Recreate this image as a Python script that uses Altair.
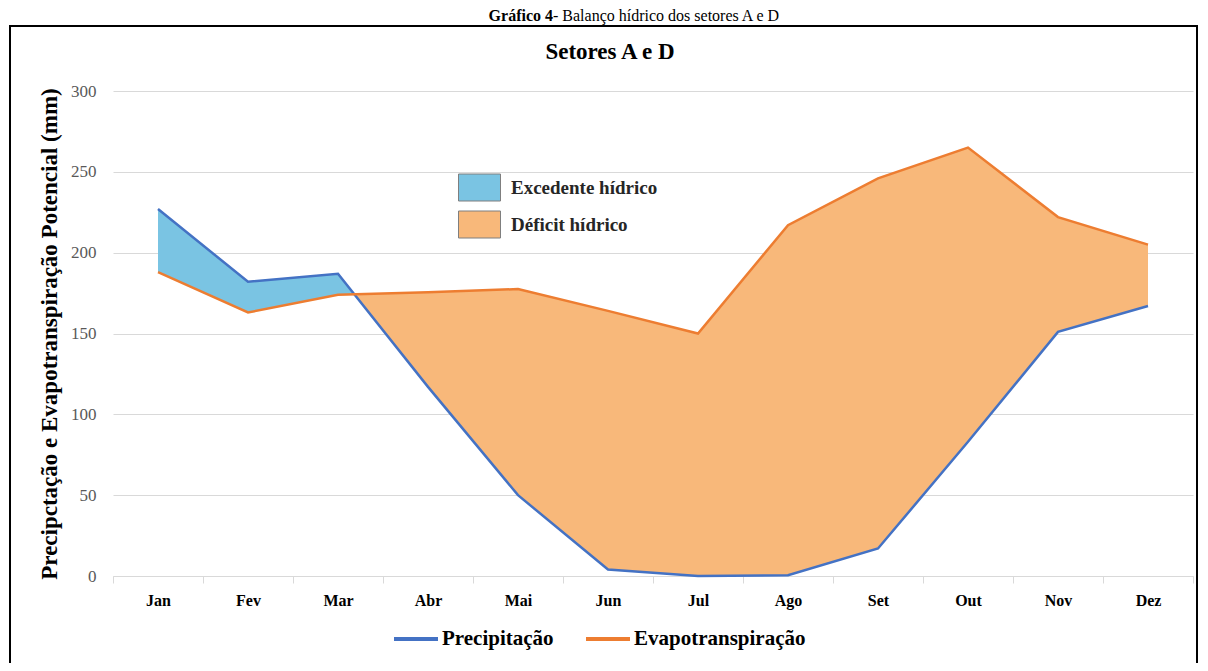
import altair as alt
import pandas as pd

# ---------------- data ----------------
months = ["Jan", "Fev", "Mar", "Abr", "Mai", "Jun", "Jul", "Ago", "Set", "Out", "Nov", "Dez"]
precipitacao = [227, 182, 187, 117, 50, 4, 0, 0.5, 17, 83, 151, 167]
evapotranspiracao = [188, 163, 174, 175.5, 177.5, 164, 150, 217, 246, 265, 222, 205]
y_ticks = [0, 50, 100, 150, 200, 250, 300]
series_names = ["Precipitação", "Evapotranspiração"]
balance_names = ["Excedente hídrico", "Déficit hídrico"]
caption_bold = ["Gráfico 4"]
caption_rest = ["- Balanço hídrico dos setores A e D"]
chart_title = ["Setores A e D"]
y_title = "Precipctação e Evapotranspiração Potencial (mm)"

# ---------------- styles ----------------
LINE_BLUE = "#4472C4"
LINE_ORANGE = "#ED7D31"
FILL_BLUE = "#7AC4E3"
FILL_ORANGE = "#F8B87A"
GRID = "#d9d9d9"
SERIF = "Liberation Serif"

W, H = 1080, 485

# line table
line_rows = []
for i in range(len(months)):
    line_rows.append({"x": i, "valor": precipitacao[i], "serie": series_names[0], "ordem": 1})
    line_rows.append({"x": i, "valor": evapotranspiracao[i], "serie": series_names[1], "ordem": 0})
lines_df = pd.DataFrame(line_rows)

# area table: add the crossing points of the two series so the fills split cleanly
pts = []
n = len(months)
for i in range(n):
    pts.append((i, precipitacao[i], evapotranspiracao[i]))
    if i < n - 1:
        d0 = precipitacao[i] - evapotranspiracao[i]
        d1 = precipitacao[i + 1] - evapotranspiracao[i + 1]
        if d0 * d1 < 0:
            t = d0 / (d0 - d1)
            p = precipitacao[i] + t * (precipitacao[i + 1] - precipitacao[i])
            e = evapotranspiracao[i] + t * (evapotranspiracao[i + 1] - evapotranspiracao[i])
            pts.append((i + t, p, e))
area_rows = []
for x, p, e in pts:
    area_rows.append({"x": x, "top": max(p, e), "bottom": e, "tipo": balance_names[0]})
    area_rows.append({"x": x, "top": e, "bottom": min(p, e), "tipo": balance_names[1]})
areas_df = pd.DataFrame(area_rows)

x_values = [i - 0.5 for i in range(n + 1)] + list(range(n))
label_expr = "datum.value % 1 === 0 ? " + str(months) + "[datum.value] : ''"

x_scale = alt.Scale(domain=[-0.5, n - 0.5], nice=False, zero=False)
y_scale = alt.Scale(domain=[0, 300], nice=False)

x_axis = alt.Axis(
    values=x_values, labelExpr=label_expr, title=None, grid=False,
    labelFont=SERIF, labelFontSize=16, labelFontWeight="bold", labelColor="#000000",
    labelPadding=9, labelOverlap=False, labelFlush=False, labelBound=False,
    tickSize=7, tickWidth=1,
    tickColor={"condition": {"test": "datum.value % 1 === 0", "value": "transparent"}, "value": GRID},
    domainColor=GRID, domainWidth=1,
)
y_axis = alt.Axis(
    values=y_ticks, title=y_title, domain=False, ticks=False,
    grid=True, gridColor=GRID, gridWidth=1,
    labelFont=SERIF, labelFontSize=17, labelColor="#595959", labelPadding=17,
    titleFont=SERIF, titleFontSize=23, titleFontWeight="bold", titleColor="#000000",
    titlePadding=9, titleLimit=600,
)

areas = alt.Chart(areas_df).mark_area(opacity=1, interpolate="linear").encode(
    x=alt.X("x:Q", scale=x_scale, axis=x_axis),
    y=alt.Y("top:Q", scale=y_scale, axis=y_axis, stack=None),
    y2="bottom:Q",
    fill=alt.Fill(
        "tipo:N",
        scale=alt.Scale(domain=balance_names, range=[FILL_BLUE, FILL_ORANGE]),
        legend=alt.Legend(
            title=None, orient="none", legendX=351, legendY=81, direction="vertical",
            symbolType="M-1.4,-0.9H1.4V0.9H-1.4Z", symbolSize=900,
            symbolStrokeColor="#7f7f7f", symbolStrokeWidth=1, symbolOpacity=1,
            labelFont=SERIF, labelFontSize=19, labelFontWeight="bold", labelColor="#262626",
            labelOffset=16, rowPadding=6, labelLimit=400,
        ),
    ),
)

lines = alt.Chart(lines_df).mark_line(strokeWidth=2.5, interpolate="linear").encode(
    x=alt.X("x:Q", scale=x_scale),
    y=alt.Y("valor:Q", scale=y_scale),
    stroke=alt.Stroke(
        "serie:N",
        scale=alt.Scale(domain=series_names, range=[LINE_BLUE, LINE_ORANGE]),
        legend=alt.Legend(
            title=None, orient="none", legendX=279, legendY=524, direction="horizontal",
            symbolType="stroke", symbolSize=1936, symbolStrokeWidth=4,
            labelFont=SERIF, labelFontSize=21, labelFontWeight="bold", labelColor="#000000",
            labelOffset=2, columnPadding=24, labelLimit=400,
        ),
    ),
    order=alt.Order("ordem:Q"),
)

border = alt.Chart(pd.DataFrame({"b": [1]})).mark_rect(
    fill="transparent", stroke="#000000", strokeWidth=2
).encode(
    x=alt.value(-103), x2=alt.value(1084), y=alt.value(-65), y2=alt.value(600)
)

title_text = alt.Chart(pd.DataFrame({"t": chart_title})).mark_text(
    font=SERIF, fontSize=23, fontWeight="bold", color="#000000", align="center", baseline="middle"
).encode(text="t:N", x=alt.value(497), y=alt.value(-39))

cap1 = alt.Chart(pd.DataFrame({"t": caption_bold})).mark_text(
    font=SERIF, fontSize=16, fontWeight="bold", color="#000000", align="right", baseline="alphabetic"
).encode(text="t:N", x=alt.value(440), y=alt.value(-70))

cap2 = alt.Chart(pd.DataFrame({"t": caption_rest})).mark_text(
    font=SERIF, fontSize=16, fontWeight="normal", color="#000000", align="left", baseline="alphabetic"
).encode(text="t:N", x=alt.value(440), y=alt.value(-70))

chart = alt.layer(areas, lines, border, title_text, cap1, cap2).resolve_scale(
    fill="independent", stroke="independent"
).properties(
    width=W, height=H,
    autosize=alt.AutoSizeParams(type="none"),
    padding={"left": 105, "top": 83, "right": 7, "bottom": 87},
).configure_view(stroke=None)

chart.save("out.html", embed_options={"renderer": "svg", "actions": False})
